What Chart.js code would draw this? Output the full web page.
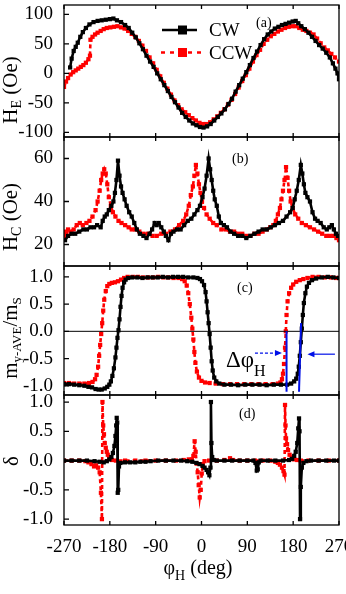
<!DOCTYPE html>
<html>
<head>
<meta charset="utf-8">
<script src="https://cdn.jsdelivr.net/npm/chart.js@4.4.0/dist/chart.umd.min.js"></script>
<style>
  html, body { margin: 0; padding: 0; background: #fff; }
  #wrap { width: 346px; height: 594px; position: relative; }
</style>
</head>
<body>
<div id="wrap"><canvas id="canvas"></canvas></div>
<script>
// tick labels
const xTicks = [-270, -180, -90, 0, 90, 180, 270];
const heTicks = [-100, -50, 0, 50, 100];
const hcTicks = [20, 40, 60];
const mTicks = [-1, -0.5, 0, 0.5, 1];
const dTicks = [-1, -0.5, 0, 0.5, 1];

// (a) H_E (Oe) vs phi_H
const heCW = [[-258,10],[-255,25],[-251,38],[-247,45],[-243,52],[-238,62],[-233,70],[-227,77],[-220,83],[-212,87],[-204,89],[-196,90],[-188,91],[-180,92],[-173,93],[-166,90],[-158,87],[-150,82],[-143,77],[-136,69],[-129,61],[-122,51],[-115,41],[-108,30],[-101,20],[-94,11],[-87,0],[-80,-10],[-73,-20],[-66,-30],[-59,-40],[-52,-49],[-45,-58],[-38,-67],[-31,-74],[-24,-80],[-17,-85],[-10,-88],[-3,-91],[4,-92],[11,-90],[18,-86],[25,-80],[32,-74],[39,-68],[46,-61],[53,-52],[60,-43],[67,-31],[74,-20],[81,-9],[88,2],[95,14],[102,26],[109,37],[116,48],[123,58],[130,66],[137,71],[144,76],[151,79],[158,82],[165,84],[172,86],[179,88],[185,89],[190,85],[196,80],[203,75],[210,69],[217,62],[224,55],[231,48],[238,42],[245,35],[252,27],[258,17],[263,8],[267,0],[270,-10]];
const heCCW = [[-270,-23],[-266,-14],[-262,-8],[-257,-2],[-252,2],[-247,5],[-242,8],[-237,11],[-232,14],[-227,18],[-222,24],[-219,30],[-218,57],[-214,62],[-209,66],[-204,69],[-198,72],[-192,75],[-186,77],[-179,78],[-172,79],[-165,80],[-158,78],[-151,76],[-144,72],[-137,67],[-130,62],[-123,55],[-116,47],[-109,38],[-102,27],[-95,17],[-88,6],[-81,-5],[-74,-16],[-67,-26],[-60,-36],[-53,-46],[-46,-54],[-39,-61],[-32,-66],[-25,-71],[-18,-76],[-11,-80],[-4,-84],[3,-86],[10,-86],[17,-83],[24,-78],[31,-73],[38,-67],[45,-61],[52,-53],[59,-45],[66,-35],[73,-24],[80,-13],[87,-3],[94,8],[101,20],[108,31],[115,40],[122,50],[129,57],[136,63],[143,67],[150,71],[157,74],[164,77],[171,79],[178,80],[185,80],[192,77],[199,74],[206,72],[213,69],[220,66],[227,59],[234,51],[241,44],[248,39],[255,33],[262,27],[270,20]];

// (b) H_C (Oe)
const hcCW = [[-268,22],[-262,24],[-255,25],[-248,25],[-240,26],[-232,27],[-225,27],[-218,28],[-211,28],[-205,29],[-198,28],[-194,31],[-190,33],[-186,34],[-182,36],[-177,38],[-173,40],[-170,44],[-167,50],[-164,59],[-161,52],[-158,47],[-155,44],[-151,41],[-147,38],[-142,35],[-137,33],[-132,30],[-127,27],[-121,25],[-114,24],[-108,23],[-102,25],[-97,27],[-92,30],[-88,29],[-84,30],[-79,28],[-74,26],[-70,24],[-65,22],[-60,25],[-55,26],[-48,27],[-41,27],[-34,29],[-27,31],[-20,32],[-14,34],[-8,36],[-3,38],[2,42],[6,46],[10,52],[14,60],[17,55],[20,50],[23,45],[26,41],[30,38],[34,33],[38,30],[44,29],[50,28],[57,26],[64,25],[72,24],[80,24],[88,23],[96,24],[104,25],[112,26],[120,27],[128,27],[136,28],[144,29],[152,30],[160,31],[167,33],[174,35],[179,37],[183,41],[187,45],[191,50],[195,57],[198,53],[201,48],[204,44],[208,42],[213,40],[218,35],[223,32],[228,31],[234,30],[240,28],[246,27],[251,28],[256,29],[260,27],[264,25],[268,24]];
const hcCCW = [[-270,26],[-266,24],[-262,27],[-257,26],[-251,27],[-245,29],[-239,30],[-233,29],[-226,30],[-220,31],[-214,33],[-208,36],[-204,40],[-200,45],[-197,50],[-194,53],[-191,55],[-188,53],[-185,48],[-182,42],[-178,38],[-174,35],[-169,33],[-163,31],[-157,30],[-150,29],[-143,28],[-137,27],[-130,27],[-122,26],[-114,25],[-105,25],[-96,24],[-88,24],[-79,25],[-70,25],[-61,26],[-52,27],[-44,29],[-36,31],[-30,34],[-25,38],[-21,43],[-17,47],[-14,52],[-11,57],[-8,53],[-5,48],[-2,44],[1,40],[5,37],[10,34],[16,32],[23,30],[30,29],[39,27],[48,27],[56,26],[64,26],[72,25],[80,25],[88,24],[96,24],[104,25],[112,25],[120,26],[128,27],[135,28],[141,29],[146,31],[150,34],[154,37],[157,41],[160,45],[163,50],[166,56],[169,51],[172,45],[175,40],[179,37],[184,34],[190,32],[197,30],[205,29],[213,28],[221,27],[229,26],[237,25],[245,24],[252,24],[259,24],[265,23],[270,22]];

// (c) m_y-AVE / m_S
const mCW = [[-270,-0.97],[-260,-0.97],[-250,-0.98],[-240,-0.99],[-230,-1.0],[-222,-1.02],[-215,-1.03],[-208,-1.06],[-202,-1.07],[-196,-1.07],[-190,-1.05],[-185,-1.02],[-181,-0.98],[-178,-0.92],[-175,-0.82],[-172,-0.68],[-169,-0.48],[-167,-0.3],[-165,-0.12],[-163,0.02],[-161,0.22],[-159,0.45],[-157,0.65],[-155,0.8],[-152,0.9],[-149,0.95],[-144,0.98],[-136,0.99],[-126,0.99],[-116,0.98],[-106,0.99],[-96,0.99],[-86,0.99],[-76,1.0],[-66,0.99],[-56,1.0],[-46,1.0],[-36,1.0],[-26,0.99],[-16,0.99],[-8,0.98],[-3,0.96],[1,0.92],[5,0.85],[8,0.72],[10,0.55],[12,0.35],[14,0.15],[16,-0.05],[18,-0.3],[20,-0.55],[22,-0.72],[25,-0.85],[29,-0.92],[35,-0.96],[45,-0.98],[58,-0.98],[72,-0.99],[86,-0.98],[100,-0.98],[114,-0.98],[128,-0.99],[142,-0.98],[156,-0.98],[168,-0.98],[176,-0.96],[182,-0.92],[186,-0.87],[189,-0.78],[191,-0.65],[193,-0.45],[195,-0.2],[197,0.05],[199,0.3],[201,0.52],[204,0.7],[207,0.82],[211,0.89],[217,0.94],[225,0.97],[236,0.99],[248,1.0],[259,0.99],[270,0.98]];
const mCCW = [[-270,-0.95],[-260,-0.95],[-250,-0.96],[-240,-0.96],[-230,-0.96],[-221,-0.95],[-214,-0.93],[-209,-0.88],[-206,-0.8],[-203,-0.65],[-201,-0.45],[-199,-0.25],[-197,-0.05],[-195,0.15],[-193,0.38],[-191,0.58],[-188,0.74],[-185,0.83],[-181,0.87],[-176,0.89],[-170,0.9],[-164,0.92],[-158,0.95],[-152,0.98],[-145,1.0],[-135,1.0],[-125,1.0],[-115,0.99],[-105,0.99],[-95,0.99],[-85,1.0],[-75,0.99],[-65,0.99],[-55,0.98],[-45,0.98],[-38,0.96],[-33,0.92],[-29,0.84],[-26,0.7],[-23,0.5],[-20,0.25],[-18,0.05],[-16,-0.15],[-14,-0.38],[-12,-0.58],[-9,-0.74],[-5,-0.85],[0,-0.91],[7,-0.94],[16,-0.95],[28,-0.96],[42,-0.97],[56,-0.97],[70,-0.97],[84,-0.97],[98,-0.97],[112,-0.97],[126,-0.97],[140,-0.97],[150,-0.96],[155,-0.94],[158,-0.88],[160,-0.78],[162,-0.6],[164,-0.3],[165.5,0.0],[167,0.3],[169,0.55],[172,0.7],[176,0.8],[180,0.86],[186,0.91],[193,0.94],[200,0.96],[208,0.98],[218,1.0],[230,1.0],[242,0.99],[254,0.99],[264,0.98],[270,0.98]];

// (d) delta
const dCW = [[-270,0],[-255,0],[-240,0],[-225,0],[-210,-0.01],[-200,-0.02],[-192,-0.03],[-186,-0.01],[-181,0.02],[-177,0.06],[-174,0.13],[-171,0.25],[-169,0.42],[-167.5,0.6],[-166.5,0.73],[-165.5,0.65],[-164.5,-0.55],[-163.5,-0.5],[-162,-0.1],[-159,-0.04],[-150,-0.03],[-140,-0.03],[-130,-0.03],[-120,-0.02],[-110,-0.02],[-100,-0.01],[-85,0],[-70,0],[-55,0],[-40,0],[-28,-0.01],[-18,-0.02],[-10,-0.04],[-4,-0.06],[2,-0.09],[6,-0.12],[10,-0.16],[13,-0.2],[15.5,-0.25],[17.5,-0.12],[18.5,1.0],[19.5,0.3],[21,0.06],[24,0.01],[30,0],[45,0],[60,0],[75,0],[90,0],[102,0],[106,-0.04],[108.5,-0.17],[110.5,-0.15],[112.5,-0.03],[116,0],[130,0],[145,0],[160,0],[172,0.01],[178,0.03],[182,0.08],[185,0.15],[188,0.3],[190,0.55],[191.5,0.72],[192.5,0.5],[193.5,-1.0],[195,-0.45],[197,-0.12],[200,-0.04],[206,-0.01],[215,0],[230,0],[245,0],[260,0],[270,0]];
const dCCW = [[-270,0],[-255,0],[-240,0],[-228,-0.01],[-222,-0.03],[-216,-0.06],[-211,-0.1],[-207,-0.08],[-203,-0.12],[-200,-0.2],[-197.5,-0.55],[-195.5,-1.0],[-194.5,1.0],[-193,0.6],[-191.5,0.45],[-190,0.3],[-188,0.22],[-186,0.15],[-184,0.1],[-181,0.04],[-176,0.01],[-168,0],[-150,0],[-130,0],[-110,0],[-90,0],[-70,0],[-50,0],[-35,0.01],[-25,0.02],[-19,0.02],[-16,0.08],[-13.5,0.33],[-11.5,0.15],[-9.5,-0.05],[-7.5,-0.2],[-5.5,-0.42],[-3.5,-0.63],[-1.5,-0.5],[0.5,-0.22],[2.5,-0.06],[6,-0.01],[15,0],[30,0],[45,0.01],[56,0.04],[62,0.01],[75,0],[90,0],[105,0],[120,0],[135,0],[145,-0.02],[150,-0.04],[154,-0.07],[158,-0.12],[161,-0.18],[163,-0.24],[164,0.95],[165,0.6],[166,0.38],[168,0.28],[170,0.18],[173,0.1],[177,0.05],[182,0.02],[188,0.01],[195,0],[210,0],[230,0],[250,0],[270,0]];

// delta-phi_H markers in (c): [x top, y top, x bottom, y bottom]
const dphiLines = [[167, 0.0, 167, -1.11], [195.5, 0.15, 191.5, -1.11]];
// arrows: [x from, x to, y, dashed]
const dphiArrows = [[105, 158, -0.40, true], [262, 208, -0.42, false]];

const serif = '"Liberation Serif", "Times New Roman", serif';
const tickFont = { family: serif, size: 19 };
const black = "#000000";
const red = "#ff0000";
const blue = "#0010e8";

function series(points, yAxisID, color, dashed) {
	return {
		data: points.map(p => ({ x: p[0], y: p[1] })),
		yAxisID: yAxisID,
		borderColor: color,
		backgroundColor: color,
		borderWidth: 2.6,
		borderDash: dashed ? [4, 3] : [],
		pointStyle: "rect",
		pointRadius: 3,
		pointBorderWidth: 0,
		pointBackgroundColor: color,
		tension: 0,
		fill: false,
	};
}

function yScale(weight, stackWeight, min, max, ticks, fmt) {
	return {
		type: "linear",
		position: "left",
		stack: "panels",
		stackWeight: stackWeight,
		weight: weight,
		min: min,
		max: max,
		grid: { display: false },
		border: { display: false },
		afterBuildTicks: s => { s.ticks = ticks.map(v => ({ value: v })); },
		afterFit: s => { s.width = 64; s.paddingTop = 0; s.paddingBottom = 0; },
		ticks: { color: black, font: tickFont, padding: 3, autoSkip: false, callback: fmt },
	};
}

// draw text pieces in a row, [text, size, baseline shift]
function textRun(ctx, parts, x, y, center) {
	let w = 0;
	parts.forEach(p => { ctx.font = p[1] + "px " + serif; w += ctx.measureText(p[0]).width; });
	let cx = center ? x - w / 2 : x;
	parts.forEach(p => {
		ctx.font = p[1] + "px " + serif;
		ctx.fillText(p[0], cx, y + (p[2] || 0));
		cx += ctx.measureText(p[0]).width;
	});
}

function rotatedTitle(ctx, parts, x, y) {
	ctx.save();
	ctx.translate(x, y);
	ctx.rotate(-Math.PI / 2);
	textRun(ctx, parts, 0, 0, true);
	ctx.restore();
}

const panelDecor = {
	id: "panelDecor",
	afterDatasetsDraw(chart) {
		const ctx = chart.ctx;
		const area = chart.chartArea;
		const xs = chart.scales.x;
		ctx.save();
		ctx.strokeStyle = black;
		ctx.fillStyle = black;
		ctx.lineWidth = 1.3;
		ctx.setLineDash([]);

		// panel frames and inward ticks
		["yA", "yB", "yC", "yD"].forEach(id => {
			const s = chart.scales[id];
			ctx.strokeRect(area.left, s.top, area.right - area.left, s.bottom - s.top);
			ctx.beginPath();
			s.ticks.forEach(t => {
				const py = s.getPixelForValue(t.value);
				ctx.moveTo(area.left, py);
				ctx.lineTo(area.left + 5, py);
			});
			xTicks.forEach(v => {
				const px = xs.getPixelForValue(v);
				ctx.moveTo(px, s.bottom);
				ctx.lineTo(px, s.bottom - 4);
				ctx.moveTo(px, s.top);
				ctx.lineTo(px, s.top + 4);
			});
			ctx.stroke();
		});

		// zero line in (c)
		const yc = chart.scales.yC;
		ctx.lineWidth = 1;
		ctx.beginPath();
		ctx.moveTo(area.left, yc.getPixelForValue(0));
		ctx.lineTo(area.right, yc.getPixelForValue(0));
		ctx.stroke();

		// delta phi markers
		ctx.strokeStyle = blue;
		ctx.fillStyle = blue;
		ctx.lineWidth = 2;
		dphiLines.forEach(l => {
			ctx.beginPath();
			ctx.moveTo(xs.getPixelForValue(l[0]), yc.getPixelForValue(l[1]));
			ctx.lineTo(xs.getPixelForValue(l[2]), yc.getPixelForValue(l[3]));
			ctx.stroke();
		});
		ctx.lineWidth = 1.2;
		dphiArrows.forEach(a => {
			const x1 = xs.getPixelForValue(a[0]);
			const x2 = xs.getPixelForValue(a[1]);
			const py = yc.getPixelForValue(a[2]);
			const dir = x2 > x1 ? 1 : -1;
			ctx.setLineDash(a[3] ? [3, 2] : []);
			ctx.beginPath();
			ctx.moveTo(x1, py);
			ctx.lineTo(x2 - dir * 5, py);
			ctx.stroke();
			ctx.setLineDash([]);
			ctx.beginPath();
			ctx.moveTo(x2, py);
			ctx.lineTo(x2 - dir * 7, py - 3);
			ctx.lineTo(x2 - dir * 7, py + 3);
			ctx.closePath();
			ctx.fill();
		});
		ctx.fillStyle = black;
		ctx.textAlign = "left";
		ctx.textBaseline = "alphabetic";
		textRun(ctx, [["\u0394\u03c6", 23], ["H", 16, 9]], 226, 367, false);

		// panel letters
		ctx.font = "14px " + serif;
		ctx.fillText("(a)", 256, 27);
		ctx.fillText("(b)", 232, 163);
		ctx.fillText("(c)", 237, 292);
		ctx.fillText("(d)", 239, 418);

		// legend
		ctx.strokeStyle = black;
		ctx.lineWidth = 2.5;
		ctx.beginPath();
		ctx.moveTo(162, 30);
		ctx.lineTo(197, 30);
		ctx.stroke();
		ctx.fillRect(178, 25.5, 9, 9);
		ctx.strokeStyle = red;
		ctx.fillStyle = red;
		ctx.setLineDash([4, 5]);
		ctx.beginPath();
		ctx.moveTo(161, 52.5);
		ctx.lineTo(205, 52.5);
		ctx.stroke();
		ctx.setLineDash([]);
		ctx.fillRect(178, 48, 9, 9);
		ctx.fillStyle = black;
		ctx.font = "19px " + serif;
		ctx.fillText("CW", 209, 36);
		ctx.fillText("CCW", 209, 59);

		// axis titles
		rotatedTitle(ctx, [["H", 21], ["E", 14, 4], [" (Oe)", 21]], 17, 90);
		rotatedTitle(ctx, [["H", 21], ["C", 14, 4], [" (Oe)", 21]], 17, 217);
		rotatedTitle(ctx, [["m", 21], ["y-AVE", 13, 4], ["/m", 21], ["S", 13, 4]], 17, 338);
		rotatedTitle(ctx, [["\u03b4", 21]], 18, 461);
		textRun(ctx, [["\u03c6", 20], ["H", 14, 6], [" (deg)", 20]], 198, 574, true);
		ctx.restore();
	},
};

window.onload = () => {
	const canvas = document.getElementById("canvas").getContext("2d");

	const config = {
		type: "line",
		data: {
			datasets: [
				series(heCW, "yA", black, false),
				series(hcCW, "yB", black, false),
				series(mCW, "yC", black, false),
				series(dCW, "yD", black, false),
				series(heCCW, "yA", red, true),
				series(hcCCW, "yB", red, true),
				series(mCCW, "yC", red, true),
				series(dCCW, "yD", red, true),
			],
		},
		options: {
			responsive: true,
			maintainAspectRatio: false,
			animation: false,
			layout: { padding: { left: 0, right: 7, top: 5, bottom: 0 } },
			plugins: {
				legend: { display: false },
				tooltip: { enabled: false },
			},
			scales: {
				x: {
					type: "linear",
					position: "bottom",
					min: -270,
					max: 270,
					grid: { display: false },
					border: { display: false },
					afterBuildTicks: s => { s.ticks = xTicks.map(v => ({ value: v })); },
					afterFit: s => { s.height = 69; s.paddingLeft = 0; s.paddingRight = 0; },
					ticks: { color: black, font: tickFont, padding: 3, maxRotation: 0, autoSkip: false },
				},
				yA: yScale(4, 132, -108, 116, heTicks, v => v),
				yB: yScale(3, 129, 10, 70, hcTicks, v => v),
				yC: yScale(2, 129, -1.17, 1.2, mTicks, v => v.toFixed(1)),
				yD: yScale(1, 130, -1.1, 1.12, dTicks, v => v.toFixed(1)),
			},
		},
		plugins: [panelDecor],
	};

	new Chart(canvas, config);
};
</script>
</body>
</html>
